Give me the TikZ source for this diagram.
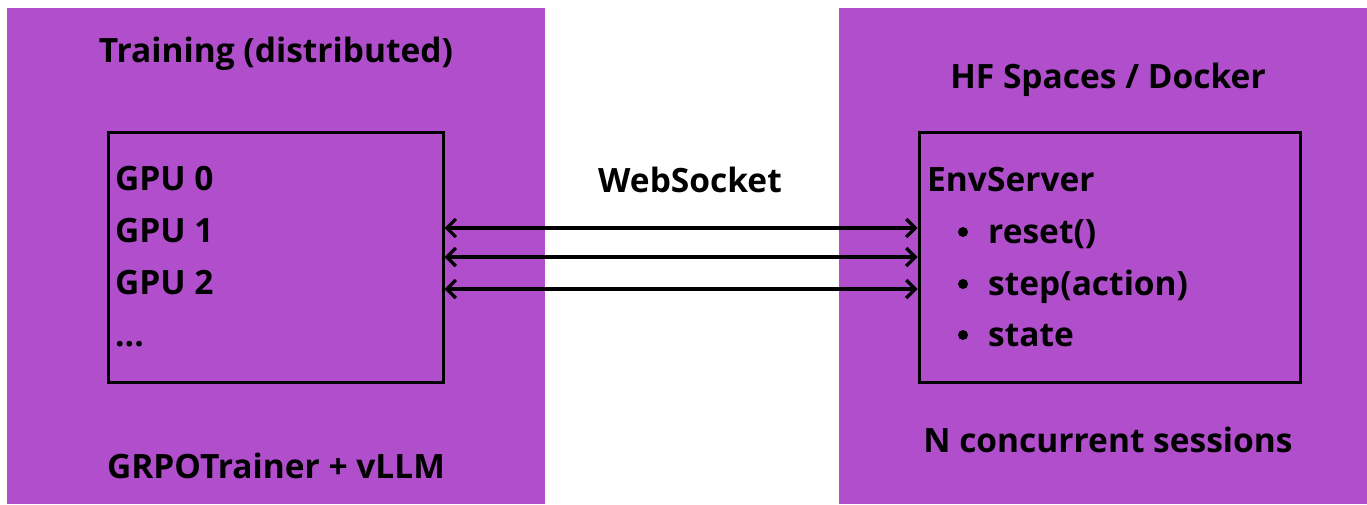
\documentclass[tikz,border=0pt]{standalone}
\usepackage{fontspec}
\setmainfont{Open Sans}
\usetikzlibrary{arrows.meta}
\definecolor{panel}{HTML}{B04ECC}
\tikzset{
  panelbox/.style={fill=panel, draw=none},
  framebox/.style={draw=black, line width=3pt, fill=none},
  hdr/.style={font=\bfseries\fontsize{33.5}{38}\selectfont, inner sep=0pt},
  txt/.style={font=\bfseries\fontsize{33.5}{38}\selectfont, inner sep=0pt},
  dot/.style={circle, fill=black, inner sep=0pt, minimum size=10pt},
  link/.style={line width=3.2pt, {Straight Barb[length=9pt,width=18pt,line width=3.2pt]}-{Straight Barb[length=9pt,width=18pt,line width=3.2pt]}, shorten <=1.5pt, shorten >=1.5pt}
}
\begin{document}
\begin{tikzpicture}[x=1pt,y=-1pt]
  \useasboundingbox (0,0) rectangle (1367,504);
  \fill[white] (0,0) rectangle (1367,504);
  % panels
  \fill[panelbox] (7,8) rectangle (545,504);
  \fill[panelbox] (839,8) rectangle (1367,504);
  % panel titles
  \node[hdr, anchor=base] (ltitle) at (276,62) {Training (distributed)};
  \node[hdr, anchor=base] (rtitle) at (1108,88) {HF Spaces / Docker};
  \node[hdr, anchor=base] (lfoot) at (276,478) {GRPOTrainer + vLLM};
  \node[hdr, anchor=base] (rfoot) at (1108,452) {N concurrent sessions};
  % boxes
  \draw[framebox] (108,132) rectangle (443,382);
  \draw[framebox] (919,132) rectangle (1300,382);
  % GPU list
  \node[txt, anchor=base west] (g0) at (115,190) {GPU 0};
  \node[txt, anchor=base west] (g1) at (115,242) {GPU 1};
  \node[txt, anchor=base west] (g2) at (115,294) {GPU 2};
  \node[txt, anchor=base west] (g3) at (115,346) {...};
  % server list
  \node[txt, anchor=base west] (srv) at (927,191) {EnvServer};
  \node[dot] (d1) at (963,232) {};
  \node[dot] (d2) at (963,284) {};
  \node[dot] (d3) at (963,335) {};
  \node[txt, anchor=base west] (m1) at (988,243) {reset()};
  \node[txt, anchor=base west] (m2) at (988,295) {step(action)};
  \node[txt, anchor=base west] (m3) at (988,346) {state};
  % link label
  \node[txt, anchor=base] (ws) at (690,192) {WebSocket};
  % connections
  \coordinate (a1) at (443,228); \coordinate (b1) at (919,228);
  \coordinate (a2) at (443,257); \coordinate (b2) at (919,257);
  \coordinate (a3) at (443,289); \coordinate (b3) at (919,289);
  \draw[link] (a1) -- (b1);
  \draw[link] (a2) -- (b2);
  \draw[link] (a3) -- (b3);
\end{tikzpicture}
\end{document}
